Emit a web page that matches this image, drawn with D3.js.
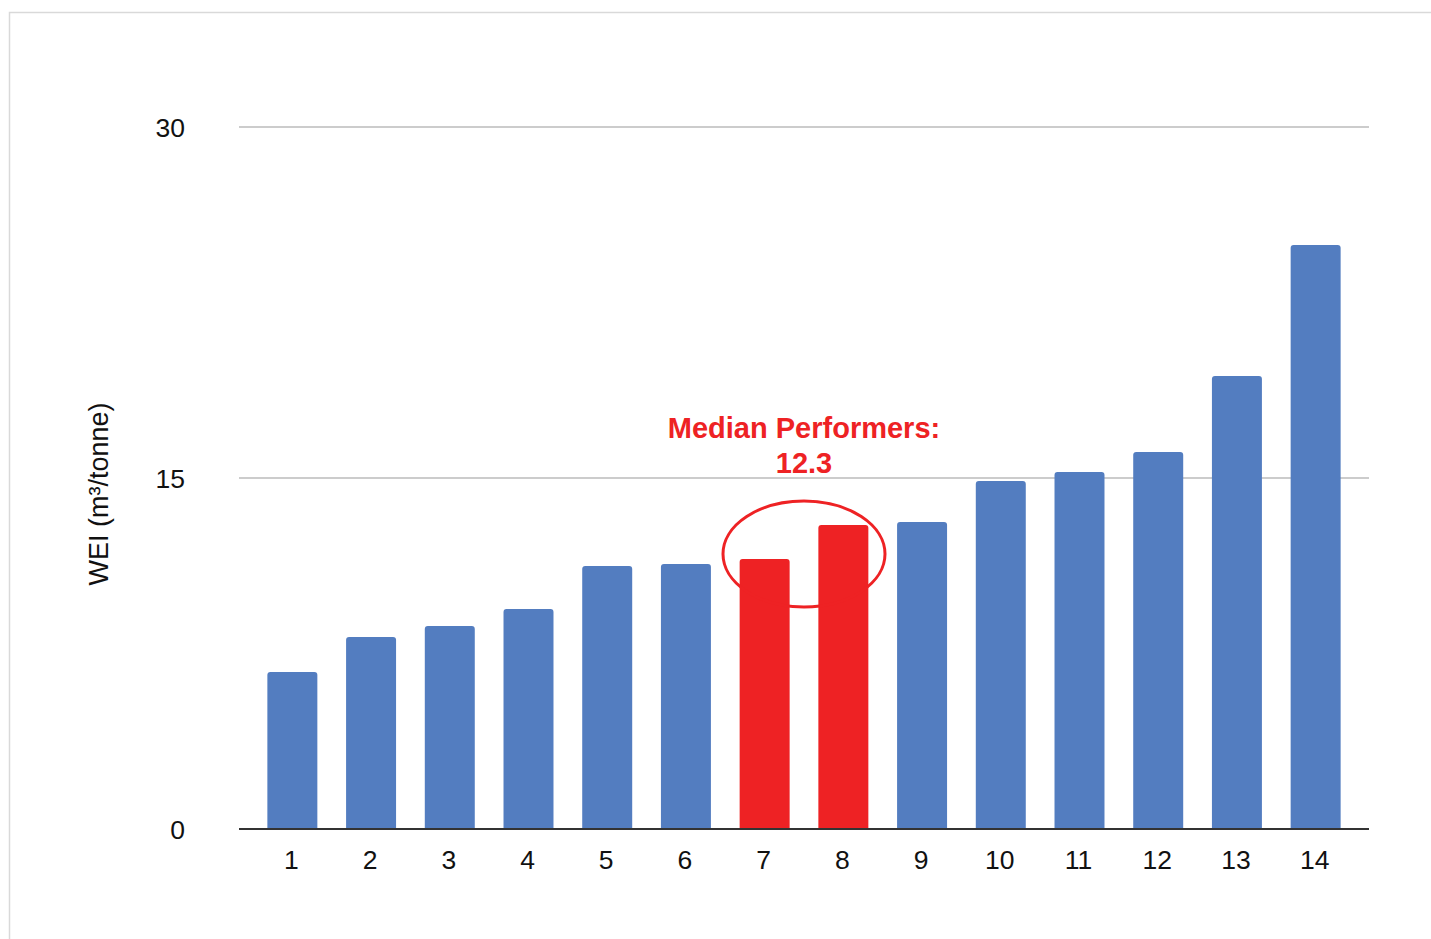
<!DOCTYPE html>
<html><head><meta charset="utf-8">
<script src="https://cdn.jsdelivr.net/npm/d3@7"></script>
<style>html,body{margin:0;padding:0;background:#fff;overflow:hidden}text{font-family:"Liberation Sans",Arial,sans-serif}</style>
</head><body>
<svg id="c" width="1431" height="939"></svg>
<script>
const categories = ["1","2","3","4","5","6","7","8","9","10","11","12","13","14"];
const values = [6.71, 8.21, 8.68, 9.40, 11.24, 11.32, 11.54, 12.99, 13.12, 14.87, 15.26, 16.11, 19.36, 24.96];
const highlighted = ["7","8"];
const yTicks = [0, 15, 30];
const annotationLines = ["Median Performers:", "12.3"];
const yTitle = "WEI (m³/tonne)";

const svg = d3.select("#c");
// frame
svg.append("rect").attr("x",9.5).attr("y",12.5).attr("width",1440).attr("height",940)
  .attr("fill","none").attr("stroke","#d9d9d9").attr("stroke-width",1.5);

const y = d3.scaleLinear().domain([0,30]).range([829,127]);
const x = d3.scaleBand().domain(categories).range([253,1355]).paddingInner(0.365).paddingOuter(0.1825);
const gridX0 = 239, gridX1 = 1369;

// gridlines
svg.append("g").selectAll("line").data(yTicks.filter(d=>d>0)).join("line")
  .attr("x1",gridX0).attr("x2",gridX1).attr("y1",d=>y(d)).attr("y2",d=>y(d))
  .attr("stroke","#cccccc").attr("stroke-width",2);

// y tick labels
svg.append("g").selectAll("text").data(yTicks).join("text")
  .attr("x",185).attr("y",d=>y(d)).attr("dy","0.36em").attr("text-anchor","end")
  .attr("font-size",26.5).attr("fill","#111").text(d=>d);

// bars with rounded top corners
const r = 3;
function barPath(x0, w, yTop, yBot){
  return `M${x0},${yBot}V${yTop+r}Q${x0},${yTop} ${x0+r},${yTop}H${x0+w-r}Q${x0+w},${yTop} ${x0+w},${yTop+r}V${yBot}Z`;
}
svg.append("g").selectAll("path").data(categories).join("path")
  .attr("d",(c,i)=>barPath(x(c), x.bandwidth(), y(values[i]), y(0)))
  .attr("fill",c=>highlighted.includes(c) ? "#ee2224" : "#537dc0");

// x axis line
svg.append("line").attr("x1",gridX0).attr("x2",gridX1).attr("y1",y(0)).attr("y2",y(0))
  .attr("stroke","#333").attr("stroke-width",2);

// x labels
svg.append("g").selectAll("text").data(categories).join("text")
  .attr("x",c=>x(c)+x.bandwidth()/2 - 1).attr("y",869).attr("text-anchor","middle")
  .attr("font-size",26.5).attr("fill","#111").text(c=>c);

// y title
svg.append("text").attr("transform","translate(108,494) rotate(-90)")
  .attr("text-anchor","middle").attr("font-size",27).attr("fill","#111").text(yTitle);

// ellipse around highlighted bars
const cx = (x(highlighted[0]) + x(highlighted[1]) + x.bandwidth())/2;
svg.append("ellipse").attr("cx",cx).attr("cy",554).attr("rx",81).attr("ry",53)
  .attr("fill","none").attr("stroke","#ee2224").attr("stroke-width",3);

// annotation
svg.append("g").selectAll("text").data(annotationLines).join("text")
  .attr("x",cx).attr("y",(d,i)=>438+i*35).attr("text-anchor","middle")
  .attr("font-size",29).attr("font-weight","bold").attr("fill","#ee2224").text(d=>d);
</script>
</body></html>
